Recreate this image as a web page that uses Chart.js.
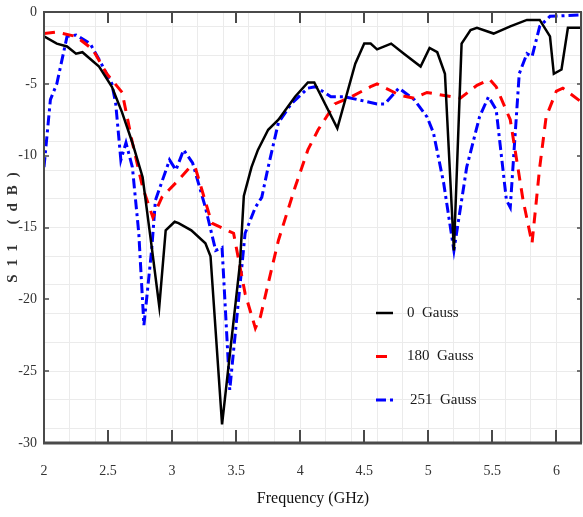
<!DOCTYPE html>
<html>
<head>
<meta charset="utf-8">
<script src="https://cdn.jsdelivr.net/npm/chart.js@4.4.1/dist/chart.umd.min.js"></script>
<style>
  body { margin: 0; background: #fff; }
  #myChart { display: block; }
</style>
</head>
<body>
<canvas id="myChart" width="583" height="517"></canvas>
<script>
// values
const blackFreq = [2.0, 2.1, 2.18, 2.25, 2.3, 2.43, 2.53, 2.61, 2.69, 2.77, 2.84, 2.9, 2.95, 3.02, 3.05, 3.15, 3.26, 3.3, 3.39, 3.53, 3.56, 3.62, 3.67, 3.75, 3.83, 3.96, 4.06, 4.11, 4.29, 4.43, 4.5, 4.55, 4.6, 4.71, 4.81, 4.94, 5.01, 5.07, 5.13, 5.2, 5.26, 5.33, 5.38, 5.51, 5.64, 5.77, 5.87, 5.95, 5.98, 6.04, 6.09, 6.2];
const blackS11 = [-1.7, -2.2, -2.4, -2.9, -2.8, -3.8, -5.2, -7.0, -9.1, -11.5, -16.3, -20.5, -15.2, -14.6, -14.7, -15.2, -16.1, -17.0, -28.7, -17.5, -12.8, -10.8, -9.6, -8.2, -7.5, -5.9, -4.9, -4.9, -8.1, -3.6, -2.2, -2.2, -2.6, -2.2, -2.9, -3.8, -2.5, -2.8, -4.3, -16.6, -2.2, -1.25, -1.1, -1.5, -1.0, -0.55, -0.55, -1.7, -4.3, -4.0, -1.1, -1.1];

const redFreq = [2.0, 2.1, 2.25, 2.38, 2.49, 2.61, 2.69, 2.77, 2.85, 2.92, 3.05, 3.13, 3.18, 3.31, 3.48, 3.57, 3.65, 3.69, 3.75, 3.83, 3.96, 4.06, 4.14, 4.27, 4.4, 4.55, 4.6, 4.78, 4.89, 4.99, 5.25, 5.38, 5.48, 5.53, 5.64, 5.74, 5.81, 5.87, 5.92, 6.0, 6.05, 6.2];
const redS11 = [-1.5, -1.4, -1.7, -2.6, -4.3, -5.6, -9.1, -12.2, -14.3, -12.9, -11.7, -10.9, -10.8, -14.7, -15.4, -19.6, -22.0, -21.2, -18.9, -15.9, -12.2, -9.6, -8.2, -6.4, -5.9, -5.2, -5.0, -5.8, -6.0, -5.6, -6.0, -5.1, -4.7, -5.2, -7.5, -13.1, -16.1, -10.8, -7.3, -5.5, -5.3, -6.3];

const blueFreq = [2.0, 2.05, 2.1, 2.18, 2.25, 2.36, 2.43, 2.53, 2.56, 2.6, 2.64, 2.69, 2.74, 2.78, 2.84, 2.87, 2.98, 3.03, 3.09, 3.16, 3.26, 3.34, 3.39, 3.45, 3.57, 3.65, 3.7, 3.75, 3.83, 3.93, 4.06, 4.12, 4.24, 4.35, 4.6, 4.66, 4.77, 4.89, 4.99, 5.04, 5.12, 5.2, 5.3, 5.4, 5.47, 5.53, 5.61, 5.64, 5.67, 5.71, 5.77, 5.81, 5.87, 5.95, 6.2];
const blueS11 = [-10.8, -6.1, -5.0, -1.7, -1.6, -2.2, -3.3, -5.0, -6.4, -10.3, -9.1, -10.8, -15.4, -21.8, -16.6, -13.1, -10.3, -11.0, -9.6, -10.5, -13.6, -16.6, -16.4, -26.3, -15.4, -13.6, -12.9, -10.8, -7.7, -6.4, -5.3, -5.2, -5.9, -5.9, -6.4, -6.4, -5.3, -6.1, -7.3, -8.4, -11.9, -16.6, -10.8, -7.3, -5.9, -6.8, -13.1, -13.6, -9.6, -4.3, -2.9, -3.1, -1.0, -0.3, -0.2];

const seriesLabels = ['0  Gauss', '180  Gauss', '251  Gauss'];
const xMajorTicks = [2.5, 3, 3.5, 4, 4.5, 5, 5.5, 6];
const yMajorTicks = [-25, -20, -15, -10, -5];
const yTitle = 'S11 (dB)';

const serif = "'Liberation Serif', 'Times New Roman', serif";

function toPoints(xs, ys) {
    return xs.map((x, i) => ({ x: x, y: ys[i] }));
}

// frame + inward tick marks like the matlab axes
const frameTicks = {
    id: 'frameTicks',
    afterDatasetsDraw(chart) {
        const { ctx, chartArea: a, scales } = chart;
        ctx.save();
        ctx.strokeStyle = '#4a4a4a';
        ctx.lineWidth = 2;
        xMajorTicks.forEach(v => {
            const px = Math.round(scales.x.getPixelForValue(v));
            ctx.beginPath();
            ctx.moveTo(px, a.bottom);
            ctx.lineTo(px, a.bottom - 13);
            ctx.moveTo(px, a.top);
            ctx.lineTo(px, a.top + 11);
            ctx.stroke();
        });
        ctx.lineWidth = 1.5;
        yMajorTicks.forEach(v => {
            const py = Math.round(scales.y.getPixelForValue(v));
            ctx.beginPath();
            ctx.moveTo(a.left, py);
            ctx.lineTo(a.left + 5, py);
            ctx.moveTo(a.right, py);
            ctx.lineTo(a.right - 5, py);
            ctx.stroke();
        });
        ctx.lineWidth = 2;
        ctx.strokeRect(a.left, a.top, a.right - a.left - 1, a.bottom - a.top);
        ctx.lineWidth = 3;
        ctx.beginPath();
        ctx.moveTo(a.left - 1, a.bottom);
        ctx.lineTo(a.right, a.bottom);
        ctx.stroke();
        ctx.restore();
    }
};

// legend drawn inside the plot, no box
const innerLegend = {
    id: 'innerLegend',
    afterDatasetsDraw(chart) {
        const { ctx, chartArea: a } = chart;
        const x0 = a.left + 332;
        const y0 = a.top + 301;
        ctx.save();
        chart.data.datasets.forEach((ds, i) => {
            const y = y0 + i * 43.5;
            ctx.strokeStyle = ds.borderColor;
            ctx.lineWidth = ds.borderWidth;
            ctx.setLineDash(ds.borderDash || []);
            ctx.beginPath();
            ctx.moveTo(x0, y);
            ctx.lineTo(x0 + 17, y);
            ctx.stroke();
            ctx.setLineDash([]);
            ctx.fillStyle = '#1a1a1a';
            ctx.font = '15px ' + serif;
            ctx.textBaseline = 'middle';
            ctx.fillText(ds.label, x0 + 31 + (i === 2 ? 3 : 0), y);
        });
        ctx.restore();
    }
};

// spaced-out bold y title (chart.js titles can't letter-space)
const yTitlePlugin = {
    id: 'yTitlePlugin',
    afterDraw(chart) {
        const { ctx, chartArea: a } = chart;
        ctx.save();
        ctx.translate(13, (a.top + a.bottom) / 2);
        ctx.rotate(-Math.PI / 2);
        ctx.font = 'bold 15px ' + serif;
        ctx.letterSpacing = '8px';
        ctx.fillStyle = '#333';
        ctx.textAlign = 'center';
        ctx.textBaseline = 'middle';
        ctx.fillText(yTitle, 4, 0);
        ctx.restore();
    }
};

const ctx = document.getElementById('myChart').getContext('2d');
const myChart = new Chart(ctx, {
    type: 'line',
    data: {
        datasets: [
            {
                label: seriesLabels[0],
                data: toPoints(blackFreq, blackS11),
                borderColor: '#000000',
                borderWidth: 2.5,
                pointRadius: 0,
                tension: 0
            },
            {
                label: seriesLabels[1],
                data: toPoints(redFreq, redS11),
                borderColor: '#ff0000',
                borderWidth: 3,
                borderDash: [11, 8],
                pointRadius: 0,
                tension: 0
            },
            {
                label: seriesLabels[2],
                data: toPoints(blueFreq, blueS11),
                borderColor: '#0000ff',
                borderWidth: 3,
                borderDash: [10, 4, 3, 4],
                pointRadius: 0,
                tension: 0
            }
        ]
    },
    options: {
        responsive: false,
        animation: false,
        devicePixelRatio: 1,
        layout: { padding: { top: 12, right: 1, left: 0, bottom: 0 } },
        plugins: {
            legend: { display: false },
            tooltip: { enabled: false }
        },
        scales: {
            x: {
                type: 'linear',
                min: 2,
                max: 6.2,
                afterFit(scale) {
                    scale.height = 74;
                    scale.paddingLeft = 0;
                    scale.paddingRight = 0;
                },
                border: { display: false },
                grid: {
                    drawTicks: false,
                    lineWidth: 1,
                    color: c => (Math.round(c.tick.value * 10) % 2 === 0 ? '#ebebeb' : 'rgba(0,0,0,0)')
                },
                ticks: {
                    stepSize: 0.1,
                    autoSkip: false,
                    includeBounds: false,
                    maxRotation: 0,
                    padding: 20,
                    color: '#333',
                    font: { family: serif, size: 14 },
                    callback: v => (Math.round(v * 10) % 5 === 0 ? String(Math.round(v * 10) / 10) : '')
                },
                title: {
                    display: true,
                    text: 'Frequency (GHz)',
                    color: '#111',
                    font: { family: serif, size: 16 },
                    padding: { top: 0, bottom: 9 }
                }
            },
            y: {
                min: -30,
                max: 0,
                afterFit(scale) {
                    scale.width = 44;
                    scale.paddingTop = 0;
                    scale.paddingBottom = 0;
                },
                border: { display: false },
                grid: {
                    drawTicks: false,
                    lineWidth: 1,
                    color: c => (Math.abs(Math.round(c.tick.value)) % 2 === 1 ? '#ebebeb' : 'rgba(0,0,0,0)')
                },
                ticks: {
                    stepSize: 1,
                    autoSkip: false,
                    padding: 7,
                    color: '#333',
                    font: { family: serif, size: 14 },
                    callback: v => (Math.round(v) % 5 === 0 ? String(Math.round(v)) : '')
                },
                title: { display: false }
            }
        }
    },
    plugins: [frameTicks, innerLegend, yTitlePlugin]
});
</script>
</body>
</html>
